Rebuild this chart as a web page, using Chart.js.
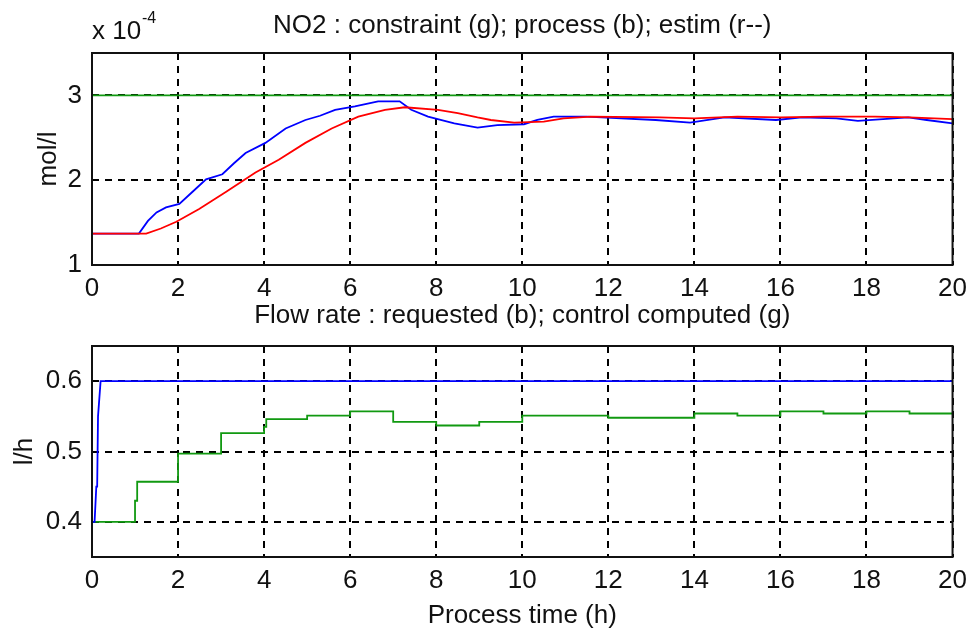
<!DOCTYPE html>
<html>
<head>
<meta charset="utf-8">
<script src="https://cdn.jsdelivr.net/npm/chart.js@4"></script>
<style>
  body { margin: 0; background: #fff; }
  canvas { position: absolute; left: 0; }
  #no2-chart { top: 0; }
  #flow-chart { top: 300px; }
</style>
</head>
<body>
<canvas id="no2-chart" width="975" height="300"></canvas>
<canvas id="flow-chart" width="975" height="330"></canvas>
<script>
// NO2 concentration, in units of 1e-4 mol/l
const processTime = [0, 1.09, 1.3, 1.5, 1.72, 2.03, 2.35, 2.65, 3.03, 3.3, 3.57, 4.03, 4.5, 4.96, 5.3, 5.65, 6.11, 6.65, 7.15, 7.42, 7.81, 8.42, 8.96, 9.42, 10.04, 10.35, 10.73, 11.5, 12.3, 13.1, 13.9, 14.7, 15.9, 16.5, 17.3, 17.8, 18.97, 19.4, 20];
const processNO2 = [1.37, 1.37, 1.52, 1.62, 1.68, 1.72, 1.87, 2.01, 2.07, 2.2, 2.32, 2.44, 2.61, 2.71, 2.76, 2.83, 2.87, 2.93, 2.93, 2.83, 2.75, 2.67, 2.62, 2.65, 2.66, 2.71, 2.75, 2.75, 2.73, 2.71, 2.68, 2.74, 2.71, 2.74, 2.73, 2.7, 2.74, 2.71, 2.67];
const estimTime = [0, 1.26, 1.6, 1.96, 2.49, 3.11, 3.8, 4.34, 4.96, 5.57, 6.19, 6.81, 7.27, 8.04, 8.5, 8.96, 9.27, 9.81, 10.5, 10.96, 11.6, 13.2, 14, 15, 16, 17, 18.2, 19, 20];
const estimNO2 = [1.37, 1.37, 1.43, 1.51, 1.66, 1.86, 2.09, 2.24, 2.44, 2.61, 2.75, 2.83, 2.86, 2.83, 2.79, 2.74, 2.71, 2.68, 2.69, 2.73, 2.75, 2.74, 2.73, 2.75, 2.74, 2.75, 2.75, 2.74, 2.72];
const constraintTime = [0, 20];
const constraintNO2 = [3, 3];

// flow rate, l/h
const requestedTime = [0, 0.06, 0.1, 0.12, 0.14, 0.16, 0.2, 20];
const requestedFlow = [0.4, 0.4, 0.45, 0.45, 0.55, 0.55, 0.6, 0.6];
// value held from each time until the next one
const computedTime = [0, 1, 1.05, 2, 3, 4, 4.05, 5, 6, 7, 8, 9, 10, 12, 14, 15, 16, 17, 18, 19, 20];
const computedFlow = [0.4, 0.43, 0.457, 0.497, 0.526, 0.535, 0.546, 0.551, 0.557, 0.542, 0.537, 0.542, 0.551, 0.548, 0.554, 0.551, 0.557, 0.554, 0.557, 0.554, 0.554];

// tick labels
const timeTicks = [0, 2, 4, 6, 8, 10, 12, 14, 16, 18, 20];
const no2Ticks = [1, 2, 3];
const flowTicks = [0.4, 0.5, 0.6];

const FONT = '"Liberation Sans", Arial, sans-serif';
const INK = '#111';

function points(xs, ys) {
    return xs.map((x, i) => ({ x: x, y: ys[i] }));
}

// box round the plot area plus the MATLAB-style titles and labels
const frameAndText = {
    id: 'frameAndText',
    afterDraw(chart, args, opts) {
        const ctx = chart.ctx;
        const a = chart.chartArea;
        const mid = (a.left + a.right) / 2;
        ctx.save();
        ctx.strokeStyle = INK;
        ctx.lineWidth = 2;
        ctx.strokeRect(a.left, a.top, a.right - a.left, a.bottom - a.top);

        ctx.fillStyle = INK;
        ctx.font = '26px ' + FONT;
        ctx.textAlign = 'center';
        ctx.textBaseline = 'alphabetic';
        ctx.fillText(opts.title, mid, opts.titleY);
        if (opts.xLabel) ctx.fillText(opts.xLabel, mid, opts.xLabelY);

        if (opts.exponent) {
            ctx.textAlign = 'left';
            ctx.fillText('x 10', a.left, 39);
            ctx.font = '16px ' + FONT;
            ctx.fillText(opts.exponent, 142, 23);
            ctx.font = '26px ' + FONT;
        }

        ctx.translate(opts.yLabelX, (a.top + a.bottom) / 2);
        ctx.rotate(-Math.PI / 2);
        ctx.textAlign = 'center';
        ctx.fillText(opts.yLabel, 0, 0);
        ctx.restore();
    }
};

function axes(yMin, yMax, yTicks, xHeight) {
    const tickFont = { family: FONT, size: 26 };
    const grid = { color: '#000', lineWidth: 2, drawTicks: false };
    const border = { display: false, dash: [7, 6] };
    return {
        x: {
            type: 'linear', min: 0, max: 20,
            grid: grid, border: border,
            ticks: { font: tickFont, color: INK, padding: 8, maxRotation: 0, callback: v => String(v) },
            afterBuildTicks: s => { s.ticks = timeTicks.map(v => ({ value: v })); },
            afterFit: s => { s.height = xHeight; }
        },
        y: {
            type: 'linear', min: yMin, max: yMax,
            grid: grid, border: border,
            ticks: { font: tickFont, color: INK, padding: 10, callback: v => String(v) },
            afterBuildTicks: s => { s.ticks = yTicks.map(v => ({ value: v })); },
            afterFit: s => { s.width = 92; }
        }
    };
}

function line(data, color, stepped) {
    return {
        data: data,
        borderColor: color,
        borderWidth: 1.8,
        pointRadius: 0,
        fill: false,
        tension: 0,
        stepped: stepped || false
    };
}

new Chart(document.getElementById('no2-chart'), {
    type: 'line',
    data: {
        datasets: [
            line(points(estimTime, estimNO2), '#ff0000'),
            line(points(processTime, processNO2), '#0000ff'),
            line(points(constraintTime, constraintNO2), '#119911')
        ]
    },
    options: {
        responsive: false,
        animation: false,
        layout: { padding: { top: 53, right: 16, left: 0, bottom: 0 } },
        scales: axes(1, 3.5, no2Ticks, 35),
        plugins: {
            legend: { display: false },
            tooltip: { enabled: false },
            frameAndText: {
                title: 'NO2 : constraint (g); process (b); estim (r--)',
                titleY: 33,
                yLabel: 'mol/l',
                yLabelX: 56,
                exponent: '-4'
            }
        }
    },
    plugins: [frameAndText]
});

new Chart(document.getElementById('flow-chart'), {
    type: 'line',
    data: {
        datasets: [
            line(points(requestedTime, requestedFlow), '#0000ff'),
            line(points(computedTime, computedFlow), '#119911', 'before')
        ]
    },
    options: {
        responsive: false,
        animation: false,
        layout: { padding: { top: 46, right: 16, left: 0, bottom: 0 } },
        scales: axes(0.35, 0.65, flowTicks, 73),
        plugins: {
            legend: { display: false },
            tooltip: { enabled: false },
            frameAndText: {
                title: 'Flow rate : requested (b); control computed (g)',
                titleY: 23,
                xLabel: 'Process time (h)',
                xLabelY: 323,
                yLabel: 'l/h',
                yLabelX: 32
            }
        }
    },
    plugins: [frameAndText]
});
</script>
</body>
</html>
